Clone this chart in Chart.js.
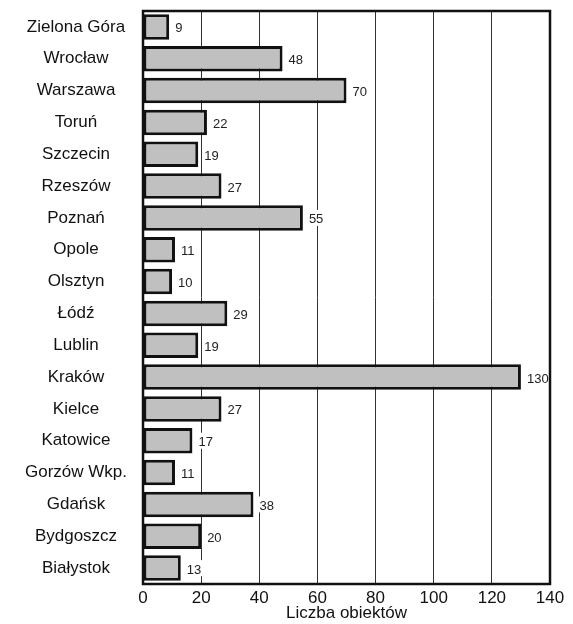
<!DOCTYPE html>
<html>
<head>
<meta charset="utf-8">
<script src="https://cdn.jsdelivr.net/npm/chart.js@4"></script>
<style>
html,body{margin:0;padding:0;background:#fff;}
#wrap{width:573px;height:624px;position:relative;}
</style>
</head>
<body>
<div id="wrap"><canvas id="c" width="573" height="624"></canvas></div>
<script>
const categories = ["Zielona Góra","Wrocław","Warszawa","Toruń","Szczecin","Rzeszów","Poznań","Opole","Olsztyn","Łódź","Lublin","Kraków","Kielce","Katowice","Gorzów Wkp.","Gdańsk","Bydgoszcz","Białystok"];
const values = [9,48,70,22,19,27,55,11,10,29,19,130,27,17,11,38,20,13];
const xTicks = [0,20,40,60,80,100,120,140];
const xTitle = "Liczba obiektów";

const FONT = "'Liberation Sans', Arial, sans-serif";

const labelPlugin = {
  id: 'valueLabels',
  afterDatasetsDraw(chart) {
    const ctx = chart.ctx;
    const meta = chart.getDatasetMeta(0);
    ctx.save();
    ctx.font = "13px " + FONT;
    ctx.textBaseline = 'middle';
    ctx.textAlign = 'left';
    meta.data.forEach((bar, i) => {
      const txt = String(values[i]);
      const x = bar.x + 6;
      const w = ctx.measureText(txt).width;
      ctx.fillStyle = '#fff';
      ctx.fillRect(x - 1, bar.y - 8, w + 2, 16);
      ctx.fillStyle = '#222';
      ctx.fillText(txt, x, bar.y + 2);
    });
    ctx.restore();
  }
};

const borderPlugin = {
  id: 'plotBorder',
  afterDraw(chart) {
    const a = chart.chartArea;
    const ctx = chart.ctx;
    ctx.save();
    ctx.strokeStyle = '#111';
    ctx.lineWidth = 2.5;
    ctx.strokeRect(a.left, a.top, a.right - a.left, a.bottom - a.top);
    ctx.restore();
  }
};

new Chart(document.getElementById('c'), {
  type: 'bar',
  data: {
    labels: categories,
    datasets: [{
      data: values,
      backgroundColor: '#c0c0c0',
      borderColor: '#111',
      borderWidth: 3,
      borderSkipped: false,
      barPercentage: 0.8,
      categoryPercentage: 1.0
    }]
  },
  options: {
    indexAxis: 'y',
    responsive: false,
    animation: false,
    devicePixelRatio: 1,
    layout: { padding: { top: 11, right: 23, bottom: 0, left: 0 } },
    plugins: { legend: { display: false }, tooltip: { enabled: false } },
    scales: {
      x: {
        min: 0, max: 140,
        afterBuildTicks(scale) { scale.ticks = xTicks.map(v => ({ value: v })); },
        afterFit(scale) { scale.height = 40; scale.paddingLeft = 0; scale.paddingRight = 0; },
        grid: { color: '#333', lineWidth: 1, drawTicks: false },
        border: { display: false },
        ticks: { color: '#111', padding: 4, font: { family: FONT, size: 17 } },
        title: { display: true, text: xTitle, color: '#111', padding: { top: 0, bottom: 0 }, font: { family: FONT, size: 17 } }
      },
      y: {
        grid: { display: false, drawTicks: false },
        border: { display: false },
        afterFit(scale) { scale.width = 143; scale.paddingTop = 0; scale.paddingBottom = 0; },
        ticks: { color: '#111', padding: 16, crossAlign: 'center', font: { family: FONT, size: 17 } }
      }
    }
  },
  plugins: [labelPlugin, borderPlugin]
});
</script>
</body>
</html>
